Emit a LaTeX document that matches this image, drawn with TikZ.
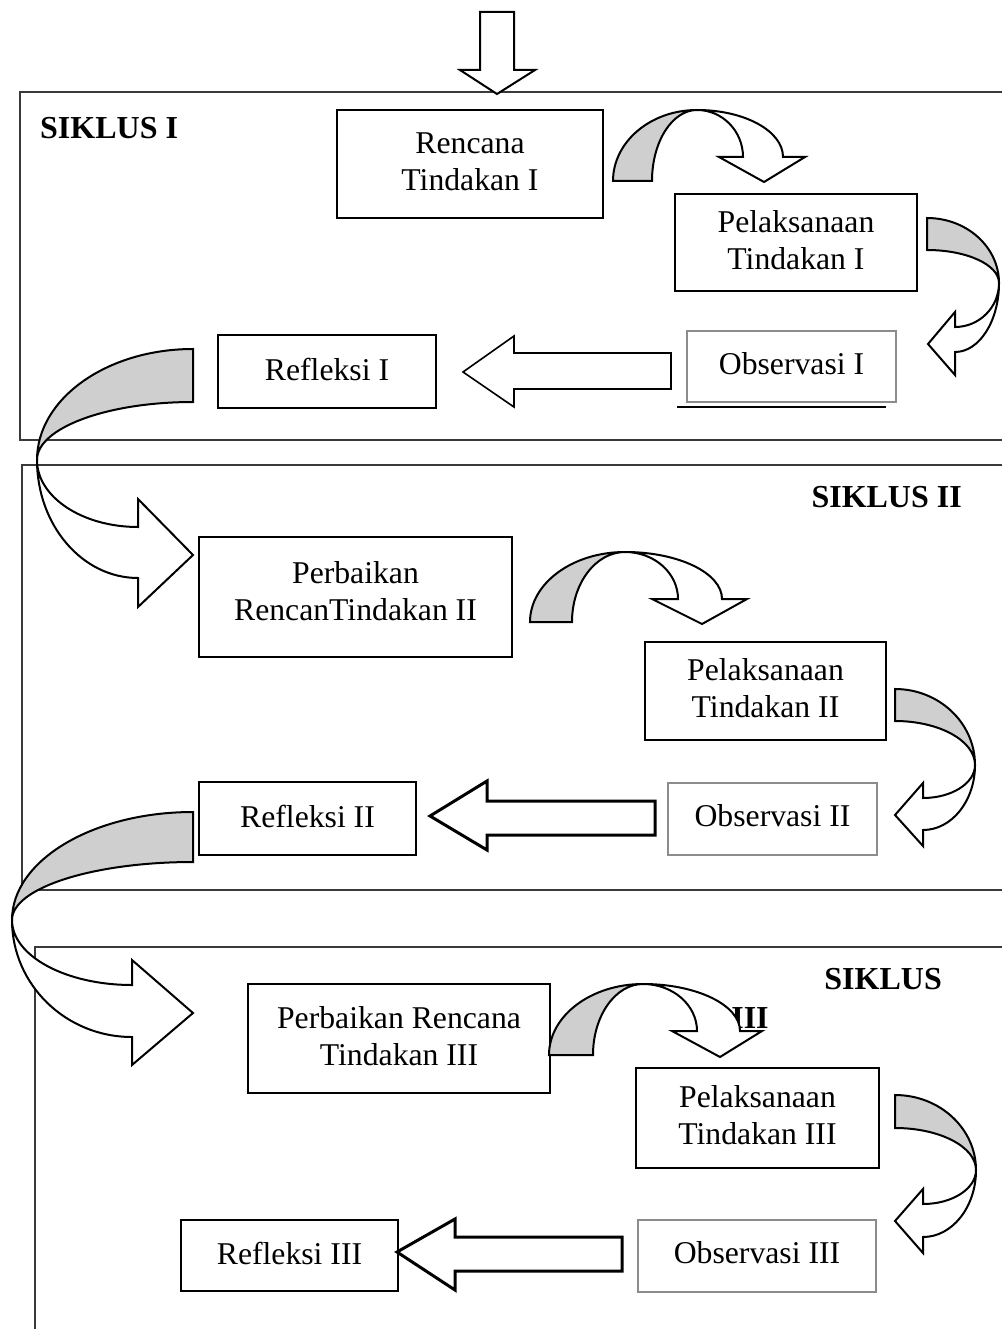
\documentclass[tikz,border=0pt]{standalone}
\usepackage{fontspec}
\setmainfont{Liberation Serif}
\definecolor{abu}{HTML}{CFCFCF}
\definecolor{garis}{HTML}{3A3A3A}
\definecolor{tepi}{HTML}{8C8C8C}

\begin{document}
\begin{tikzpicture}[x=1pt,y=-1pt,
  kotak/.style={rectangle,draw,line width=2.2pt,align=center,inner sep=0pt,text depth=0.52em,font=\fontsize{31.7}{37}\selectfont},
  obs/.style={kotak,draw=tepi,line width=1.8pt,text depth=0.63em},
  judul/.style={inner sep=0pt,font=\fontsize{32}{37}\selectfont\bfseries},
  bingkai/.style={draw=garis,line width=2pt},
  pita/.style={draw,line width=2pt,fill=abu},
  putih/.style={draw,line width=2pt,fill=white}]
  \useasboundingbox (0,0) rectangle (1002,1329);

  % frames of the three cycles
  \draw[bingkai] (1002,92) -- (20,92) -- (20,440) -- (1002,440);
  \draw[bingkai] (1002,465) -- (22,465) -- (22,890) -- (1002,890);
  \draw[bingkai] (1002,947) -- (35,947) -- (35,1329);

  \node[judul,anchor=west] (s1) at (40,128) {SIKLUS I};
  \node[judul,anchor=east] (s2) at (962,497) {SIKLUS II};
  \node[judul,anchor=east] (s3) at (942,979) {SIKLUS};
  \node[judul] (s3b) at (750,1018) {III};

  % siklus I
  \node[kotak,minimum width=266pt,minimum height=108pt] (r1) at (470,164) {Rencana\\Tindakan I};
  \node[kotak,minimum width=242pt,minimum height=97pt] (p1) at (796,242.5) {Pelaksanaan\\Tindakan I};
  \node[obs,minimum width=209pt,minimum height=71pt] (o1) at (791.5,366.5) {Observasi I};
  \node[kotak,minimum width=218pt,minimum height=73pt] (f1) at (327,371.5) {Refleksi I};
  \draw[line width=2pt] (677,407) -- (886,407);

  % siklus II
  \node[kotak,minimum width=313pt,minimum height=120pt,text depth=1.2em] (r2) at (355.5,597) {Perbaikan\\RencanTindakan II};
  \node[kotak,minimum width=241pt,minimum height=98pt] (p2) at (765.5,691) {Pelaksanaan\\Tindakan II};
  \node[obs,minimum width=209pt,minimum height=72pt] (o2) at (772.5,819) {Observasi II};
  \node[kotak,minimum width=217pt,minimum height=73pt] (f2) at (307.5,818.5) {Refleksi II};

  % siklus III
  \node[kotak,minimum width=302pt,minimum height=109pt] (r3) at (399,1038.5) {Perbaikan Rencana\\Tindakan III};
  \node[kotak,minimum width=243pt,minimum height=100pt] (p3) at (757.5,1118) {Pelaksanaan\\Tindakan III};
  \node[obs,minimum width=238pt,minimum height=72pt] (o3) at (757,1256) {Observasi III};
  \node[kotak,minimum width=217pt,minimum height=71pt] (f3) at (289.5,1255.5) {Refleksi III};

  % block arrows
  \draw[putih] (480,12) -- (514,12) -- (514,70) -- (535,70) -- (497,94) -- (460,70) -- (480,70) -- cycle;
  \draw[putih,line width=1.6pt] (671,353) -- (514,353) -- (514,336) -- (463,372) -- (514,407) -- (514,389) -- (671,389) -- cycle;
  \draw[putih,line width=3pt] (655,801) -- (487,801) -- (487,781) -- (430,816) -- (487,850) -- (487,835) -- (655,835) -- cycle;
  \draw[putih,line width=3pt] (622,1237) -- (455,1237) -- (455,1219) -- (397,1252) -- (455,1290) -- (455,1271) -- (622,1271) -- cycle;

  % rencana -> pelaksanaan
  \draw[pita] (613,181) arc[start angle=180,end angle=270,x radius=84,y radius=71] arc[start angle=270,end angle=180,x radius=45,y radius=71] -- cycle;
  \draw[putih] (697,110) arc[start angle=270,end angle=360,x radius=86,y radius=47] -- (805,157) -- (764,182) -- (719,157) -- (743,157) arc[start angle=0,end angle=-90,x radius=46,y radius=47] -- cycle;
  \draw[pita] (530,622) arc[start angle=180,end angle=270,x radius=95,y radius=70] arc[start angle=270,end angle=180,x radius=53,y radius=70] -- cycle;
  \draw[putih] (625,552) arc[start angle=270,end angle=360,x radius=97,y radius=47] -- (747,599) -- (702,624) -- (652,599) -- (678,599) arc[start angle=0,end angle=-90,x radius=53,y radius=47] -- cycle;
  \draw[pita] (549,1055) arc[start angle=180,end angle=270,x radius=94,y radius=71] arc[start angle=270,end angle=180,x radius=50,y radius=71] -- cycle;
  \draw[putih] (643,984) arc[start angle=270,end angle=360,x radius=97,y radius=47] -- (762,1031) -- (720,1057) -- (672,1031) -- (697,1031) arc[start angle=0,end angle=-90,x radius=54,y radius=47] -- cycle;

  % pelaksanaan -> observasi
  \draw[pita] (927,218) arc[start angle=270,end angle=360,x radius=72,y radius=65] arc[start angle=0,end angle=-90,x radius=72,y radius=33] -- cycle;
  \draw[putih] (999,283) arc[start angle=0,end angle=90,x radius=44,y radius=69] -- (955,375) -- (928,344) -- (955,312) -- (955,327) arc[start angle=90,end angle=0,x radius=44,y radius=44] -- cycle;
  \draw[pita] (895,689) arc[start angle=270,end angle=360,x radius=80,y radius=76] arc[start angle=0,end angle=-90,x radius=80,y radius=44] -- cycle;
  \draw[putih] (975,765) arc[start angle=0,end angle=90,x radius=52,y radius=65] -- (923,846) -- (895,815) -- (923,783) -- (923,798) arc[start angle=90,end angle=0,x radius=52,y radius=33] -- cycle;
  \draw[pita] (895,1095) arc[start angle=270,end angle=360,x radius=81,y radius=75] arc[start angle=0,end angle=-90,x radius=81,y radius=42] -- cycle;
  \draw[putih] (976,1170) arc[start angle=0,end angle=90,x radius=53,y radius=67] -- (923,1253) -- (895,1221) -- (923,1189) -- (923,1204) arc[start angle=90,end angle=0,x radius=53,y radius=34] -- cycle;

  % refleksi -> perbaikan rencana
  \draw[pita] (193,349) arc[start angle=270,end angle=180,x radius=156,y radius=111] arc[start angle=180,end angle=270,x radius=156,y radius=58] -- cycle;
  \draw[putih] (37,460) arc[start angle=180,end angle=90,x radius=101,y radius=118] -- (138,607) -- (193,555) -- (138,499) -- (138,527) arc[start angle=90,end angle=180,x radius=101,y radius=67] -- cycle;
  \draw[pita] (193,812) arc[start angle=270,end angle=180,x radius=181,y radius=108] arc[start angle=180,end angle=270,x radius=181,y radius=58] -- cycle;
  \draw[putih] (12,920) arc[start angle=180,end angle=90,x radius=120,y radius=117] -- (132,1065) -- (193,1013) -- (132,960) -- (132,985) arc[start angle=90,end angle=180,x radius=120,y radius=65] -- cycle;
\end{tikzpicture}
\end{document}
